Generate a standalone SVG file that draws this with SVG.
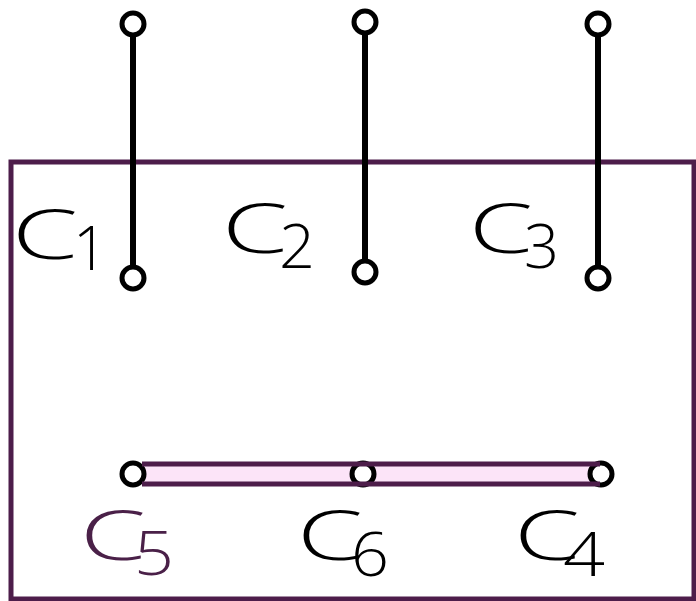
<svg xmlns="http://www.w3.org/2000/svg" width="696" height="601" viewBox="0 0 696 601">
<style>
.frame{fill:none;stroke:#4d1d4a;stroke-width:5}
.wire{stroke:#000;stroke-width:6;fill:none}
.term{fill:#fff;stroke:#000;stroke-width:5}
.band{fill:#fce4f8;stroke:none}
.bandline{stroke:#4d1d4a;stroke-width:5;fill:none}
.lbl{font-family:"Open Sans","Liberation Sans",Arial,sans-serif;font-weight:300;font-size:68px;fill:#000}
.sub{font-family:"Open Sans","Liberation Sans",Arial,sans-serif;font-weight:300;font-size:60px;fill:#000}
.pur{fill:#4a2048}
</style>
<rect id="frame" class="frame" x="11" y="162" width="683" height="437"/>
<g id="connectors">
  <line class="wire" x1="133" y1="24" x2="133" y2="278"/>
  <line class="wire" x1="365" y1="22" x2="365" y2="272"/>
  <line class="wire" x1="598" y1="24" x2="598" y2="278"/>
  <rect class="band" x="133" y="464" width="467" height="20"/>
</g>
<g id="c1"><circle class="term" cx="133" cy="24" r="11"/><circle class="term" cx="133" cy="278" r="11"/></g>
<g id="c2"><circle class="term" cx="365" cy="22" r="11"/><circle class="term" cx="365" cy="272" r="11"/></g>
<g id="c3"><circle class="term" cx="598" cy="24" r="11"/><circle class="term" cx="598" cy="278" r="11"/></g>
<g id="c5"><circle class="term" cx="133" cy="474" r="11"/></g>
<g id="c6"><circle class="term" cx="363" cy="474" r="11"/></g>
<g id="c4"><circle class="term" cx="601" cy="474" r="11"/></g>
<g id="band-lines">
  <line class="bandline" x1="142" y1="464" x2="600" y2="464"/>
  <line class="bandline" x1="142" y1="484" x2="600" y2="484"/>
</g>
<g id="labels">
  <text class="lbl" x="12" y="259" textLength="66" lengthAdjust="spacingAndGlyphs">C</text>
  <text class="sub" x="73" y="270">1</text>
  <text class="lbl" x="222" y="253" textLength="66" lengthAdjust="spacingAndGlyphs">C</text>
  <text class="sub" x="279" y="268" textLength="36" lengthAdjust="spacingAndGlyphs">2</text>
  <text class="lbl" x="469" y="253" textLength="64" lengthAdjust="spacingAndGlyphs">C</text>
  <text class="sub" x="524" y="268" textLength="35" lengthAdjust="spacingAndGlyphs">3</text>
  <text class="lbl pur" x="80" y="560" textLength="66" lengthAdjust="spacingAndGlyphs">C</text>
  <text class="sub pur" x="134" y="575" textLength="40" lengthAdjust="spacingAndGlyphs">5</text>
  <text class="lbl" x="297" y="560" textLength="66" lengthAdjust="spacingAndGlyphs">C</text>
  <text class="sub" x="351" y="576" textLength="38" lengthAdjust="spacingAndGlyphs">6</text>
  <text class="lbl" x="514" y="560" textLength="66" lengthAdjust="spacingAndGlyphs">C</text>
  <text class="sub" x="563" y="576" textLength="42" lengthAdjust="spacingAndGlyphs">4</text>
</g>
</svg>
